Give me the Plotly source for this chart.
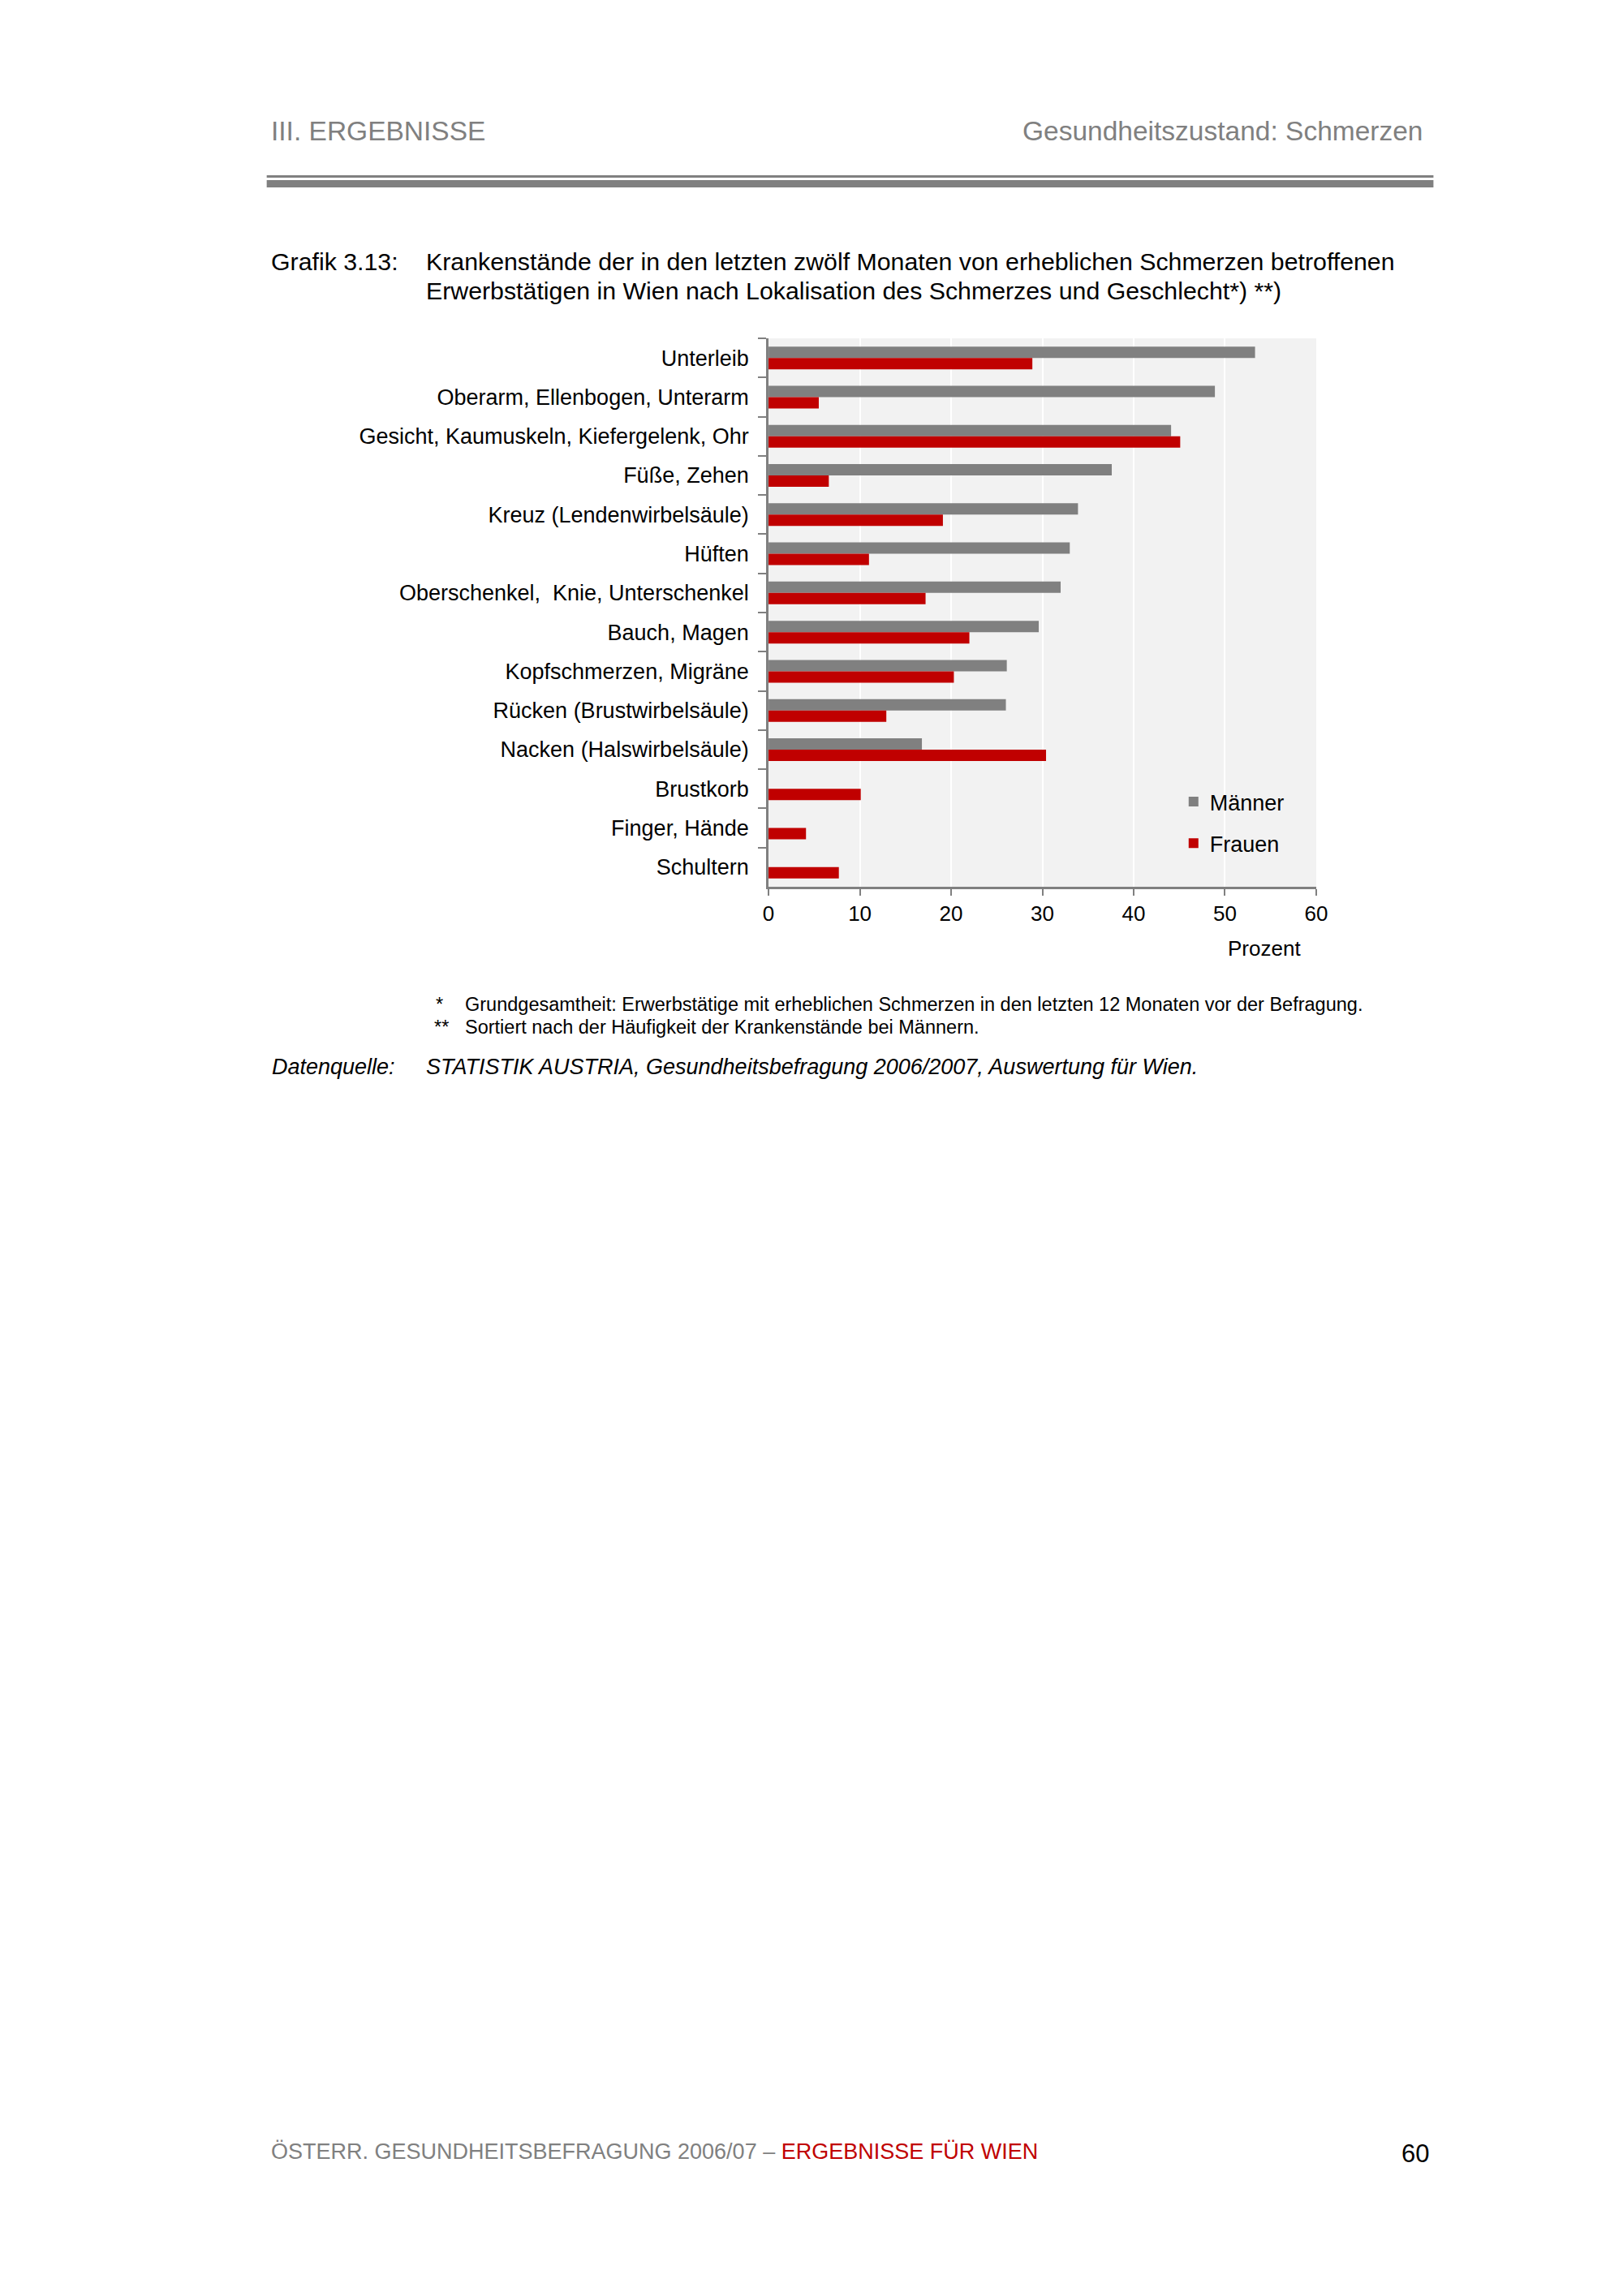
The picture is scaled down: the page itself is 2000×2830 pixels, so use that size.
import plotly.graph_objects as go

# Lokalisation des Schmerzes, sortiert nach Häufigkeit bei Männern
categories = [
    'Unterleib',
    'Oberarm, Ellenbogen, Unterarm',
    'Gesicht, Kaumuskeln, Kiefergelenk, Ohr',
    'Füße, Zehen',
    'Kreuz (Lendenwirbelsäule)',
    'Hüften',
    'Oberschenkel,  Knie, Unterschenkel',
    'Bauch, Magen',
    'Kopfschmerzen, Migräne',
    'Rücken (Brustwirbelsäule)',
    'Nacken (Halswirbelsäule)',
    'Brustkorb',
    'Finger, Hände',
    'Schultern',
]
maenner = [53.3, 48.9, 44.1, 37.6, 33.9, 33.0, 32.0, 29.6, 26.1, 26.0, 16.8, None, None, None]
frauen = [28.9, 5.5, 45.1, 6.6, 19.1, 11.0, 17.2, 22.0, 20.3, 12.9, 30.4, 10.1, 4.1, 7.7]
x_ticks = [0, 10, 20, 30, 40, 50, 60]

W, H = 2000, 2830
OFF = 8  # the page body adds an 8px margin
FONT = 'Liberation Sans, Arial, sans-serif'
GREY = '#808080'
RED = '#c00000'


def px(x):
    return (x - OFF) / W


def py(y):
    return 1 - (y - OFF) / H


def text(x, y, s, size, anchor='left', color='black'):
    fig.add_annotation(x=px(x), y=py(y), xref='paper', yref='paper', text=s,
                       showarrow=False, xanchor=anchor, yanchor='middle',
                       font=dict(size=size, color=color))


fig = go.Figure()
fig.add_trace(go.Bar(y=categories, x=maenner, orientation='h', name='Männer',
                     marker=dict(color=GREY, line=dict(width=0)), legendgroup='m'))
fig.add_trace(go.Bar(y=categories, x=frauen, orientation='h', name='Frauen',
                     marker=dict(color=RED, line=dict(width=0)), legendgroup='f'))

fig.update_layout(
    width=W, height=H,
    margin=dict(l=0, r=0, t=0, b=0),
    paper_bgcolor='white',
    plot_bgcolor='#f2f2f2',
    barmode='group',
    bargap=0.42,
    bargroupgap=0,
    font=dict(family=FONT, color='black', size=27),
    showlegend=True,
    legend=dict(x=px(1459), y=py(964), xanchor='left', yanchor='top',
                bgcolor='rgba(0,0,0,0)', traceorder='grouped', tracegroupgap=13,
                font=dict(size=27), itemwidth=30),
)
fig.update_xaxes(
    domain=[px(950), px(1632)], range=[0, 60], tickvals=x_ticks,
    showgrid=True, gridcolor='white', gridwidth=2, zeroline=False,
    showline=True, linecolor=GREY, linewidth=3,
    ticks='outside', ticklen=8, tickcolor=GREY, tickwidth=2,
    tickfont=dict(size=26),
)
fig.update_yaxes(
    domain=[py(1093), py(417)], autorange='reversed', type='category',
    showgrid=False, showline=True, linecolor=GREY, linewidth=3,
    ticks='outside', ticklen=10, tickcolor=GREY, tickwidth=2, tickson='boundaries',
    tickfont=dict(size=27), ticklabelstandoff=16,
)

# Kopfzeile
text(328, 162, 'III. ERGEBNISSE', 33.5, color=GREY)
text(1766, 162, 'Gesundheitszustand: Schmerzen', 33.5, anchor='right', color=GREY)
fig.add_shape(type='rect', xref='paper', yref='paper', x0=px(325), x1=px(1778),
              y0=py(219), y1=py(216), fillcolor=GREY, line=dict(width=0))
fig.add_shape(type='rect', xref='paper', yref='paper', x0=px(325), x1=px(1778),
              y0=py(231), y1=py(222), fillcolor=GREY, line=dict(width=0))

# Titel
text(328, 322, 'Grafik 3.13:', 30.3)
text(521, 322, 'Krankenstände der in den letzten zwölf Monaten von erheblichen Schmerzen betroffenen', 30.3)
text(521, 358, 'Erwerbstätigen in Wien nach Lokalisation des Schmerzes und Geschlecht*) **)', 30.3)

# Achsentitel
text(1615, 1169, 'Prozent', 26, anchor='right')

# Fußnoten
text(534, 1238, '*', 23.5)
text(570, 1238, 'Grundgesamtheit: Erwerbstätige mit erheblichen Schmerzen in den letzten 12 Monaten vor der Befragung.', 23.5)
text(531, 1266, '**', 23.5)
text(570, 1266, 'Sortiert nach der Häufigkeit der Krankenstände bei Männern.', 23.5)
text(329, 1315, '<i>Datenquelle:</i>', 27)
text(521, 1315, '<i>STATISTIK AUSTRIA, Gesundheitsbefragung 2006/2007, Auswertung für Wien.</i>', 27)

# Fußzeile
text(328, 2652, '<span style="color:#808080">ÖSTERR. GESUNDHEITSBEFRAGUNG 2006/07 – </span>'
                '<span style="color:#c00000">ERGEBNISSE FÜR WIEN</span>', 27)
text(1775, 2654, '60', 31, anchor='right')

fig.write_html("out.html")
